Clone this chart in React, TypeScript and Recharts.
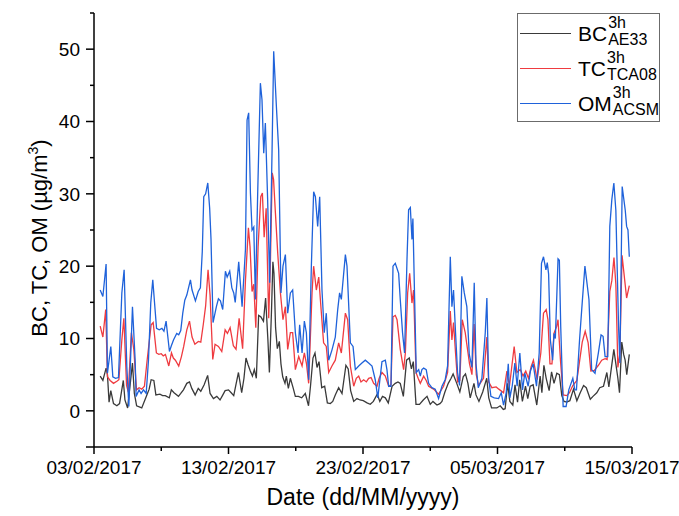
import { LineChart, Line, XAxis, YAxis, Legend, Label } from "recharts";

// x = days since 03/02/2017 00:00, y = concentration in µg/m³
const bcPoints: [number, number][] = [
  [0.46, 4.8], [0.66, 4.2], [0.9, 5.9], [1.0, 5.0], [1.12, 1.2], [1.25, 2.8], [1.45, 1.0], [1.7, 0.7],
  [1.9, 1.0], [2.18, 4.2], [2.3, 1.5], [2.5, 0.4], [2.86, 6.6], [3.0, 2.4], [3.17, 0.7], [3.55, 0.4],
  [3.93, 2.2], [4.1, 3.0], [4.25, 4.3], [4.45, 4.2], [4.6, 2.2], [4.9, 2.3], [5.1, 2.1], [5.3, 2.1],
  [5.6, 1.8], [5.75, 2.9], [5.95, 2.5], [6.28, 2.0], [6.45, 2.4], [6.65, 2.9], [6.9, 3.8], [7.1, 4.0],
  [7.27, 3.1], [7.52, 2.2], [7.75, 3.1], [7.94, 2.7], [8.19, 3.6], [8.45, 4.9], [8.63, 2.4], [8.88, 1.7],
  [9.13, 2.0], [9.37, 1.5], [9.55, 2.1], [9.75, 2.8], [10.0, 2.9], [10.2, 2.5], [10.39, 2.1], [10.55, 3.6],
  [10.74, 5.3], [10.98, 2.5], [11.15, 4.5], [11.3, 7.3], [11.45, 6.4], [11.62, 5.5], [11.78, 4.8], [11.92, 5.7],
  [12.07, 4.5], [12.24, 13.2], [12.4, 13.0], [12.6, 12.4], [12.76, 15.6], [12.93, 9.8], [13.04, 5.3], [13.2, 14.0],
  [13.3, 20.6], [13.38, 19.0], [13.5, 11.5], [13.63, 8.6], [13.78, 9.6], [13.9, 6.5], [14.03, 4.7], [14.2, 3.8],
  [14.3, 4.8], [14.45, 3.1], [14.6, 4.5], [14.8, 3.2], [14.97, 2.0], [15.2, 2.0], [15.44, 1.8], [15.71, 2.4],
  [15.95, 0.7], [16.1, 3.5], [16.28, 7.3], [16.43, 8.0], [16.58, 6.0], [16.73, 6.8], [16.93, 3.2], [17.15, 3.4],
  [17.35, 1.1], [17.57, 1.0], [17.75, 1.3], [17.94, 2.2], [18.19, 3.2], [18.44, 2.4], [18.73, 6.3], [18.9, 5.8],
  [19.08, 2.8], [19.31, 1.3], [19.55, 1.7], [19.78, 1.5], [20.02, 1.4], [20.3, 1.1], [20.54, 0.9], [20.77, 1.3],
  [21.06, 2.3], [21.25, 1.3], [21.45, 2.0], [21.66, 1.8], [21.88, 1.1], [22.16, 3.4], [22.4, 3.8], [22.6, 4.0],
  [22.77, 3.8], [23.0, 2.0], [23.24, 7.0], [23.44, 7.3], [23.6, 5.8], [23.74, 6.8], [23.94, 0.9], [24.2, 0.9],
  [24.48, 1.5], [24.76, 2.0], [25.0, 0.9], [25.2, 1.3], [25.5, 0.8], [25.72, 1.0], [25.87, 1.3], [26.09, 2.6],
  [26.34, 3.8], [26.55, 4.5], [26.7, 5.1], [26.95, 3.9], [27.2, 2.6], [27.45, 4.7], [27.62, 5.1], [27.8, 3.8],
  [27.97, 1.8], [28.25, 3.8], [28.4, 2.2], [28.62, 1.3], [28.9, 2.6], [29.2, 4.5], [29.35, 1.8], [29.56, 0.4],
  [29.95, 0.4], [30.2, 0.7], [30.43, 0.2], [30.57, 0.3], [30.75, 3.8], [30.92, 1.3], [31.14, 0.8], [31.3, 3.6],
  [31.49, 1.2], [31.65, 4.3], [31.85, 1.3], [32.08, 3.4], [32.25, 1.7], [32.43, 3.4], [32.65, 3.6], [32.92, 0.8],
  [33.17, 4.8], [33.3, 2.5], [33.45, 6.3], [33.62, 4.5], [33.84, 2.8], [34.02, 5.4], [34.2, 3.8], [34.41, 5.2],
  [34.6, 5.0], [34.78, 2.1], [34.95, 1.3], [35.15, 1.2], [35.38, 1.4], [35.65, 3.0], [35.9, 1.4], [36.15, 2.5],
  [36.4, 3.5], [36.6, 3.2], [36.9, 1.6], [37.1, 2.0], [37.38, 2.5], [37.6, 3.2], [37.88, 3.4], [38.13, 5.3],
  [38.28, 3.3], [38.45, 5.7], [38.65, 8.5], [38.8, 6.5], [38.95, 4.5], [39.07, 2.5], [39.24, 9.5], [39.38, 7.8],
  [39.49, 7.0], [39.61, 5.0], [39.8, 7.8],
];

const tcPoints: [number, number][] = [
  [0.46, 11.7], [0.66, 10.2], [0.87, 14.0], [1.0, 4.7], [1.2, 4.2], [1.45, 3.8], [1.7, 4.1], [1.85, 4.3],
  [2.07, 9.8], [2.22, 12.8], [2.42, 3.5], [2.55, 2.6], [2.78, 10.8], [2.96, 8.5], [3.16, 2.9], [3.35, 3.2],
  [3.55, 3.0], [3.75, 3.4], [3.95, 7.0], [4.25, 11.9], [4.4, 12.2], [4.64, 8.0], [4.82, 7.8], [5.0, 7.9],
  [5.15, 7.6], [5.31, 7.8], [5.56, 6.2], [5.76, 8.0], [5.9, 7.3], [6.05, 7.0], [6.3, 6.2], [6.5, 7.5],
  [6.67, 8.9], [6.9, 11.2], [7.1, 12.4], [7.29, 10.2], [7.5, 9.2], [7.76, 9.6], [7.94, 9.5], [8.13, 12.0],
  [8.3, 14.5], [8.48, 19.5], [8.63, 16.0], [8.83, 7.1], [9.0, 9.2], [9.25, 8.9], [9.5, 8.2], [9.75, 11.2],
  [9.92, 10.7], [10.12, 11.5], [10.36, 9.0], [10.56, 8.5], [10.79, 12.8], [11.05, 8.6], [11.26, 18.0], [11.48, 25.3],
  [11.6, 22.7], [11.75, 16.5], [11.88, 17.5], [12.03, 11.5], [12.2, 22.7], [12.4, 29.6], [12.52, 30.1], [12.65, 24.0],
  [12.8, 28.0], [12.99, 12.8], [13.11, 20.0], [13.25, 32.9], [13.35, 32.0], [13.49, 27.3], [13.66, 21.8], [13.86, 16.3],
  [14.05, 12.6], [14.23, 14.4], [14.4, 8.5], [14.6, 10.8], [14.77, 10.8], [14.97, 5.7], [15.22, 7.5], [15.47, 6.2],
  [15.64, 8.0], [15.8, 6.5], [15.96, 3.8], [16.21, 16.3], [16.33, 20.0], [16.53, 16.7], [16.71, 18.5], [16.83, 15.4],
  [17.07, 9.4], [17.27, 8.9], [17.45, 5.3], [17.69, 6.2], [17.94, 7.0], [18.19, 9.4], [18.39, 8.0], [18.69, 13.5],
  [18.86, 12.6], [19.06, 6.2], [19.31, 3.4], [19.5, 4.5], [19.68, 4.8], [19.85, 4.0], [20.05, 4.3], [20.25, 4.0],
  [20.42, 4.5], [20.6, 4.6], [20.79, 3.8], [21.04, 3.4], [21.2, 4.5], [21.41, 5.3], [21.66, 4.8], [21.91, 3.4],
  [22.08, 3.6], [22.23, 13.0], [22.4, 13.2], [22.53, 12.6], [22.77, 8.5], [23.02, 5.7], [23.15, 8.0], [23.32, 16.3],
  [23.47, 19.0], [23.64, 14.9], [23.76, 16.7], [23.94, 5.3], [24.1, 4.5], [24.26, 3.8], [24.51, 4.8], [24.7, 4.2],
  [24.88, 3.4], [25.25, 3.0], [25.62, 2.3], [25.99, 3.4], [26.29, 5.3], [26.49, 13.8], [26.61, 9.8], [26.73, 12.2],
  [26.88, 8.0], [27.03, 4.0], [27.2, 4.2], [27.38, 12.6], [27.6, 10.8], [27.72, 9.2], [27.92, 6.5], [28.1, 5.0],
  [28.26, 12.0], [28.42, 5.0], [28.6, 3.5], [28.96, 4.5], [29.21, 10.2], [29.34, 4.0], [29.58, 3.2], [29.9, 3.3],
  [30.1, 3.0], [30.45, 2.5], [30.7, 5.5], [30.89, 3.4], [31.24, 8.9], [31.44, 5.3], [31.69, 5.7], [31.9, 4.8],
  [32.1, 5.5], [32.3, 4.5], [32.5, 6.1], [32.67, 7.0], [32.95, 4.3], [33.22, 8.0], [33.42, 13.5], [33.62, 14.0],
  [33.75, 12.6], [33.9, 6.5], [34.05, 6.5], [34.2, 10.7], [34.4, 11.7], [34.5, 12.6], [34.68, 7.0], [34.88, 2.2],
  [35.15, 2.1], [35.35, 2.5], [35.6, 3.5], [35.9, 4.2], [36.15, 7.5], [36.3, 9.5], [36.52, 11.0], [36.74, 9.4],
  [36.94, 5.5], [37.2, 5.6], [37.5, 6.3], [37.75, 7.0], [38.0, 7.2], [38.15, 7.1], [38.35, 16.5], [38.5, 18.0],
  [38.66, 21.2], [38.8, 17.5], [38.95, 6.0], [39.1, 8.0], [39.26, 21.5], [39.49, 17.5], [39.6, 15.6], [39.8, 17.3],
];

const omPoints: [number, number][] = [
  [0.46, 16.7], [0.66, 15.8], [0.9, 20.3], [1.0, 5.2], [1.25, 8.9], [1.4, 4.7], [1.6, 4.5], [1.82, 4.6],
  [2.07, 16.3], [2.24, 19.5], [2.44, 6.1], [2.59, 0.6], [2.86, 14.4], [3.06, 7.0], [3.13, 2.0], [3.35, 2.9],
  [3.5, 2.4], [3.68, 2.9], [3.88, 2.4], [4.05, 7.0], [4.22, 14.9], [4.37, 18.1], [4.54, 14.0], [4.65, 11.4],
  [4.85, 11.2], [5.05, 11.4], [5.2, 11.0], [5.36, 12.4], [5.61, 8.2], [5.75, 9.0], [5.91, 9.8], [6.15, 10.7],
  [6.3, 10.5], [6.45, 11.1], [6.6, 13.5], [6.75, 15.3], [6.9, 16.0], [7.17, 18.1], [7.29, 16.7], [7.54, 15.2],
  [7.75, 16.5], [7.91, 17.0], [8.05, 22.0], [8.16, 29.6], [8.3, 30.0], [8.46, 31.5], [8.6, 28.0], [8.7, 23.7],
  [8.85, 12.2], [9.1, 14.4], [9.25, 15.5], [9.4, 15.2], [9.57, 14.0], [9.77, 19.3], [9.9, 18.5], [10.09, 19.3],
  [10.25, 17.0], [10.39, 16.3], [10.5, 15.0], [10.76, 20.6], [11.01, 14.4], [11.26, 22.3], [11.38, 40.2], [11.5, 41.2],
  [11.63, 30.1], [11.75, 25.0], [11.88, 25.4], [12.0, 15.4], [12.17, 30.1], [12.37, 45.3], [12.49, 43.0], [12.62, 35.6],
  [12.74, 39.8], [12.91, 29.2], [13.06, 17.7], [13.24, 36.1], [13.36, 49.7], [13.56, 42.1], [13.73, 36.1], [13.9, 16.3],
  [14.05, 20.0], [14.23, 21.6], [14.4, 13.5], [14.6, 16.3], [14.77, 16.7], [14.97, 10.8], [15.17, 8.0], [15.29, 11.9],
  [15.47, 8.0], [15.64, 12.4], [15.79, 10.8], [15.96, 4.3], [16.16, 20.0], [16.33, 30.3], [16.46, 29.6], [16.63, 25.5],
  [16.78, 29.6], [16.95, 16.7], [17.12, 10.8], [17.27, 13.5], [17.45, 7.0], [17.69, 8.4], [17.94, 10.2], [18.12, 14.0],
  [18.26, 16.3], [18.39, 15.4], [18.69, 21.6], [18.81, 20.0], [19.06, 9.4], [19.26, 8.9], [19.43, 5.7], [19.68, 6.2],
  [19.92, 6.6], [20.17, 7.0], [20.42, 6.6], [20.67, 6.2], [20.91, 4.3], [21.1, 1.8], [21.41, 6.8], [21.66, 7.0],
  [21.78, 5.7], [21.91, 3.4], [22.08, 3.4], [22.23, 20.0], [22.4, 20.4], [22.65, 19.0], [22.77, 15.4], [22.94, 10.8],
  [23.09, 8.0], [23.27, 20.9], [23.39, 27.8], [23.52, 28.1], [23.64, 23.7], [23.71, 26.6], [23.84, 15.4], [23.96, 5.3],
  [24.14, 5.7], [24.26, 4.8], [24.38, 5.7], [24.51, 5.9], [24.7, 5.7], [24.88, 3.8], [25.12, 3.2], [25.37, 3.0],
  [25.62, 1.7], [25.87, 3.4], [26.11, 4.3], [26.29, 6.2], [26.49, 21.3], [26.61, 14.4], [26.73, 16.7], [26.88, 10.8],
  [27.03, 5.3], [27.18, 3.5], [27.35, 18.6], [27.53, 16.3], [27.72, 14.4], [27.9, 7.8], [28.1, 6.0], [28.27, 17.7],
  [28.4, 6.5], [28.57, 3.2], [28.84, 4.5], [29.09, 10.8], [29.21, 15.6], [29.34, 4.5], [29.51, 2.0], [29.76, 1.8],
  [30.08, 1.7], [30.28, 2.5], [30.45, 0.8], [30.65, 2.5], [30.8, 6.5], [30.92, 1.8], [31.1, 3.5], [31.29, 6.6],
  [31.46, 3.4], [31.66, 8.0], [31.86, 2.9], [32.03, 5.2], [32.28, 3.4], [32.45, 5.5], [32.65, 6.5], [32.9, 3.4],
  [33.1, 8.0], [33.27, 20.4], [33.42, 21.3], [33.6, 19.5], [33.7, 20.5], [33.8, 18.9], [33.93, 9.8], [34.1, 7.0],
  [34.2, 10.7], [34.3, 10.0], [34.4, 15.4], [34.5, 21.0], [34.6, 20.8], [34.7, 11.7], [34.88, 0.6], [35.1, 0.6],
  [35.3, 2.9], [35.6, 4.5], [35.75, 2.9], [35.87, 2.9], [36.1, 9.8], [36.3, 15.0], [36.5, 20.0], [36.8, 15.4],
  [37.0, 5.7], [37.25, 5.2], [37.5, 8.0], [37.7, 10.5], [37.85, 10.3], [38.0, 7.5], [38.2, 7.5], [38.35, 25.5],
  [38.5, 29.2], [38.65, 31.5], [38.8, 27.7], [39.0, 11.7], [39.1, 6.6], [39.27, 31.0], [39.5, 27.7], [39.6, 25.5],
  [39.7, 25.0], [39.8, 21.3],
];

const DAY_TICKS = [0, 5, 10, 15, 20, 25, 30, 35, 40];
const DATE_LABELS: Record<number, string> = {
  0: "03/02/2017",
  10: "13/02/2017",
  20: "23/02/2017",
  30: "05/03/2017",
  40: "15/03/2017",
};
const VALUE_TICKS = [-5, 0, 5, 10, 15, 20, 25, 30, 35, 40, 45, 50, 55];

const FONT = "'Liberation Sans', Arial, sans-serif";
const BC_COLOR = "#3a3a3a";
const TC_COLOR = "#ef3b40";
const OM_COLOR = "#1f62da";

const LEGEND_ITEMS = [
  { key: "bc", main: "BC", sup: "3h", sub: "AE33", color: BC_COLOR },
  { key: "tc", main: "TC", sup: "3h", sub: "TCA08", color: TC_COLOR },
  { key: "om", main: "OM", sup: "3h", sub: "ACSM", color: OM_COLOR },
];

const toRows = (pts: [number, number][]) => pts.map(([d, v]) => ({ d, v }));

function DateTick({ x, y, payload }: any) {
  const label = DATE_LABELS[payload.value];
  const major = label !== undefined;
  return (
    <g>
      <line x1={x} x2={x} y1={y} y2={y + (major ? 7 : 4)} stroke="#000" strokeWidth={1.5} />
      {major && (
        <text x={x} y={y + 27} textAnchor="middle" fontSize={19} fontFamily={FONT} fill="#000">
          {label}
        </text>
      )}
    </g>
  );
}

function ValueTick({ x, y, payload }: any) {
  const v = payload.value;
  const labelled = v % 10 === 0;
  const len = labelled || v === -5 ? 8 : 4;
  return (
    <g>
      <line x1={x - len} x2={x} y1={y} y2={y} stroke="#000" strokeWidth={1.5} />
      {labelled && (
        <text x={x - 14} y={y} dy="0.36em" textAnchor="end" fontSize={19} fontFamily={FONT} fill="#000">
          {v}
        </text>
      )}
    </g>
  );
}

function ValueTitle({ viewBox }: any) {
  const cx = viewBox.x + 47;
  const cy = viewBox.y + viewBox.height / 2 + 8;
  return (
    <text
      transform={`translate(${cx},${cy}) rotate(-90)`}
      textAnchor="middle"
      fontSize={22}
      fontFamily={FONT}
      fill="#000"
    >
      BC, TC, OM (µg/m<tspan dy={-9} fontSize={14}>3</tspan>
      <tspan dy={9}>)</tspan>
    </text>
  );
}

function LegendBox() {
  return (
    <div
      style={{
        boxSizing: "border-box",
        width: 143,
        height: 109,
        border: "1px solid #6b6b6b",
        background: "#fff",
        fontFamily: FONT,
        paddingTop: 2,
        color: "#000",
      }}
    >
      {LEGEND_ITEMS.map((it) => (
        <div key={it.key} style={{ display: "flex", alignItems: "center", height: 35 }}>
          <div style={{ width: 51, marginLeft: 2, borderTop: `1.3px solid ${it.color}` }} />
          <div style={{ position: "relative", marginLeft: 7, fontSize: 21, lineHeight: "21px" }}>
            {it.main}
            <span style={{ position: "absolute", left: "100%", marginLeft: 1, top: -8, fontSize: 16, lineHeight: "16px" }}>
              {it.sup}
            </span>
            <span style={{ position: "absolute", left: "100%", marginLeft: 1, top: 9, fontSize: 16, lineHeight: "16px" }}>
              {it.sub}
            </span>
          </div>
        </div>
      ))}
    </div>
  );
}

export default function App() {
  return (
    <div style={{ position: "absolute", left: 0, top: 0, width: 679, height: 516, background: "#fff" }}>
      <LineChart width={679} height={516} margin={{ top: 13, right: 47, bottom: 0, left: 0 }}>
        <XAxis
          dataKey="d"
          type="number"
          domain={[0, 40]}
          ticks={DAY_TICKS}
          interval={0}
          height={69}
          tickSize={0}
          tickMargin={0}
          tick={<DateTick />}
          axisLine={{ stroke: "#000", strokeWidth: 1.5 }}
          allowDataOverflow
          label={
            <Label
              value="Date (dd/MM/yyyy)"
              position="insideBottom"
              offset={11}
              fontSize={23}
              fontFamily={FONT}
              fill="#000"
            />
          }
        />
        <YAxis
          type="number"
          domain={[-5, 55]}
          ticks={VALUE_TICKS}
          interval={0}
          width={94}
          tickSize={0}
          tickMargin={0}
          tick={<ValueTick />}
          axisLine={{ stroke: "#000", strokeWidth: 1.5 }}
          allowDataOverflow
          label={<Label content={<ValueTitle />} />}
        />
        <Legend
          layout="horizontal"
          verticalAlign="middle"
          align="center"
          content={<LegendBox />}
          wrapperStyle={{ position: "absolute", left: 517, top: 13, width: 143, height: 109 }}
        />
        <Line data={toRows(bcPoints)} dataKey="v" name="BC" stroke={BC_COLOR} strokeWidth={1.3} dot={false} isAnimationActive={false} />
        <Line data={toRows(tcPoints)} dataKey="v" name="TC" stroke={TC_COLOR} strokeWidth={1.3} dot={false} isAnimationActive={false} />
        <Line data={toRows(omPoints)} dataKey="v" name="OM" stroke={OM_COLOR} strokeWidth={1.3} dot={false} isAnimationActive={false} />
      </LineChart>
    </div>
  );
}
